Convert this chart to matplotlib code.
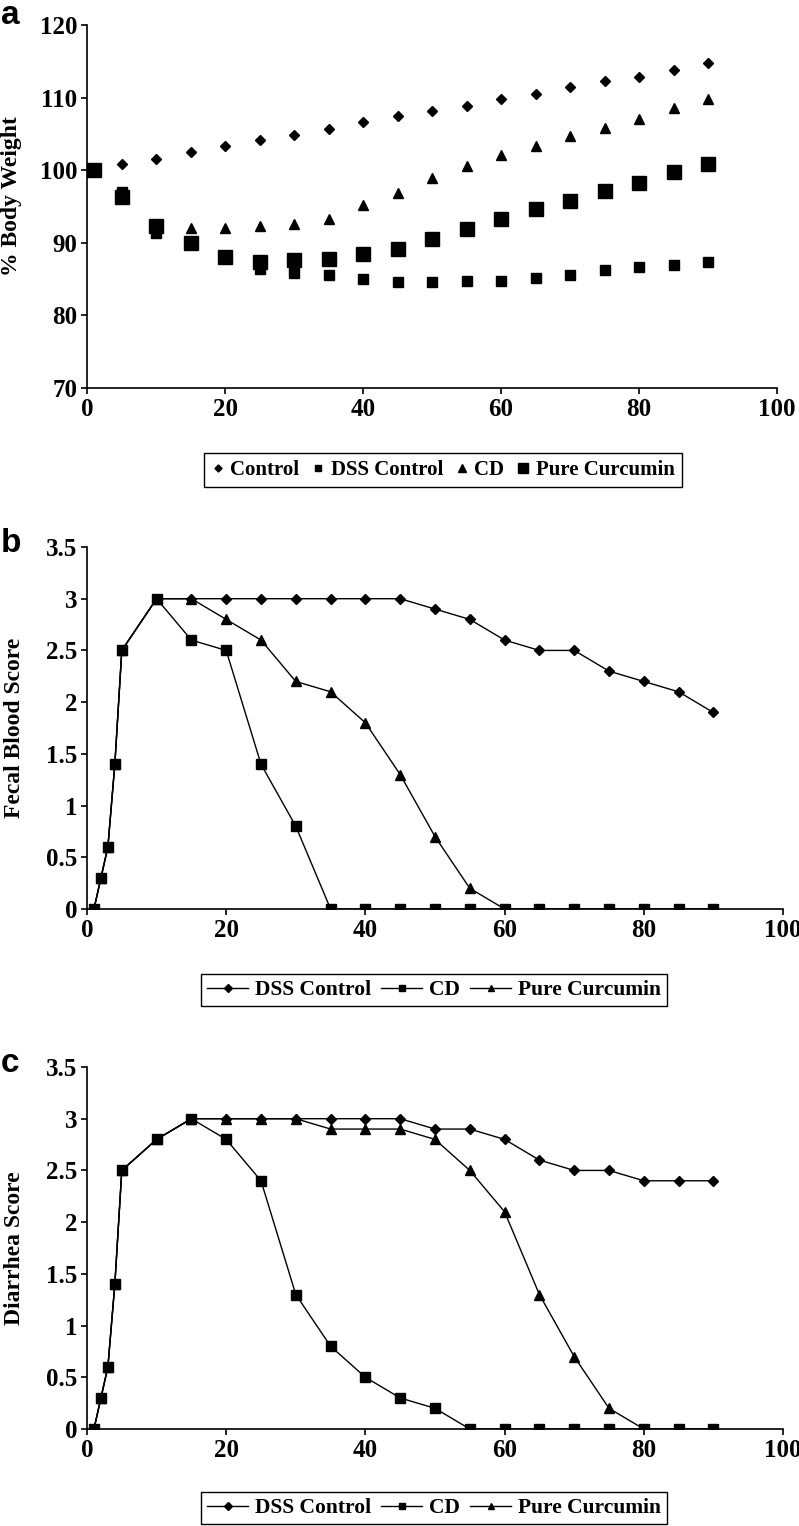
import numpy as np
import matplotlib
matplotlib.use("Agg")
import matplotlib.pyplot as plt
from matplotlib.lines import Line2D

plt.rcParams['font.family'] = ['Liberation Serif', 'DejaVu Serif']
plt.rcParams['font.weight'] = 'bold'

# ---- panel a: % body weight ----
days_a = [1, 5, 10, 15, 20, 25, 30, 35, 40, 45, 50, 55, 60, 65, 70, 75, 80, 85, 90]
control_a = [100, 100.8, 101.6, 102.5, 103.3, 104.1, 104.9, 105.7, 106.6, 107.4,
             108.1, 108.9, 109.8, 110.5, 111.4, 112.3, 112.9, 113.8, 114.7]
dss_a = [100, 97.0, 91.3, 89.8, 88.0, 86.4, 85.8, 85.5, 85.0, 84.6,
         84.6, 84.8, 84.8, 85.2, 85.5, 86.2, 86.6, 87.0, 87.4]
cd_a = [100, 97.0, 92.6, 92.0, 92.1, 92.3, 92.6, 93.3, 95.2, 96.9,
        98.9, 100.6, 102.1, 103.4, 104.7, 105.8, 107.1, 108.5, 109.8]
pure_a = [100, 96.3, 92.3, 90.0, 88.0, 87.4, 87.6, 87.8, 88.4, 89.2,
          90.5, 91.9, 93.3, 94.6, 95.8, 97.1, 98.2, 99.7, 100.9]

# ---- panel b: fecal blood score ----
days_bc = [1, 2, 3, 4, 5, 10, 15, 20, 25, 30, 35, 40, 45, 50, 55, 60, 65, 70, 75, 80, 85, 90]
dss_b = [0, 0.3, 0.6, 1.4, 2.5, 3.0, 3.0, 3.0, 3.0, 3.0, 3.0, 3.0, 3.0,
         2.9, 2.8, 2.6, 2.5, 2.5, 2.3, 2.2, 2.1, 1.9]
cd_b = [0, 0.3, 0.6, 1.4, 2.5, 3.0, 2.6, 2.5, 1.4, 0.8, 0, 0, 0,
        0, 0, 0, 0, 0, 0, 0, 0, 0]
pure_b = [0, 0.3, 0.6, 1.4, 2.5, 3.0, 3.0, 2.8, 2.6, 2.2, 2.1, 1.8, 1.3,
          0.7, 0.2, 0, 0, 0, 0, 0, 0, 0]

# ---- panel c: diarrhea score ----
dss_c = [0, 0.3, 0.6, 1.4, 2.5, 2.8, 3.0, 3.0, 3.0, 3.0, 3.0, 3.0, 3.0,
         2.9, 2.9, 2.8, 2.6, 2.5, 2.5, 2.4, 2.4, 2.4]
cd_c = [0, 0.3, 0.6, 1.4, 2.5, 2.8, 3.0, 2.8, 2.4, 1.3, 0.8, 0.5, 0.3,
        0.2, 0, 0, 0, 0, 0, 0, 0, 0]
pure_c = [0, 0.3, 0.6, 1.4, 2.5, 2.8, 3.0, 3.0, 3.0, 3.0, 2.9, 2.9, 2.9,
          2.8, 2.5, 2.1, 1.3, 0.7, 0.2, 0, 0, 0]

score_ticks = [0, 0.5, 1, 1.5, 2, 2.5, 3, 3.5]
score_labels = ['0', '0.5', '1', '1.5', '2', '2.5', '3', '3.5']
x_ticks = [0, 20, 40, 60, 80, 100]

W, H = 799, 1526
fig = plt.figure(figsize=(W / 100, H / 100), dpi=100)


def px_axes(x0, x1, ytop, ybot):
    return fig.add_axes([x0 / W, 1 - ybot / H, (x1 - x0) / W, (ybot - ytop) / H])


def style(ax):
    for s in ['top', 'right']:
        ax.spines[s].set_visible(False)
    for s in ['left', 'bottom']:
        ax.spines[s].set_linewidth(1.2)
    ax.tick_params(direction='out', length=4, width=1.2, labelsize=18, pad=3)
    ax.set_xlim(0, 100)
    ax.set_xticks(x_ticks)
    for lab in ax.get_xticklabels() + ax.get_yticklabels():
        lab.set_fontweight('bold')


# panel a
ax1 = px_axes(87, 777, 25, 388)
ax1.plot(days_a, control_a, 'D', color='black', ms=4.8, ls='none', label='Control')
ax1.plot(days_a, dss_a, 's', color='black', ms=6.5, ls='none', label='DSS Control')
ax1.plot(days_a, cd_a, '^', color='black', ms=7, ls='none', label='CD')
ax1.plot(days_a, pure_a, 's', color='black', ms=10, ls='none', label='Pure Curcumin')
ax1.set_ylim(70, 120)
ax1.set_yticks(range(70, 121, 10))
style(ax1)
fig.legend(handles=ax1.get_lines(), loc='center', bbox_to_anchor=(443 / W, 1 - 470 / H),
           ncol=4, frameon=True, fancybox=False, edgecolor='black', framealpha=1,
           prop={'size': 15, 'weight': 'bold'}, handlelength=0.6, handletextpad=0.3,
           columnspacing=0.6, borderpad=0.35, markerscale=0.75)

# panels b and c
kw = dict(color='black', lw=1.0)
for ytop, ybot, dss, cd, pure, lab, leg_y in [
        (547, 909, dss_b, cd_b, pure_b, 'Fecal Blood Score', 990),
        (1067, 1429, dss_c, cd_c, pure_c, 'Diarrhea Score', 1508)]:
    ax = px_axes(87, 783, ytop, ybot)
    ax.plot(days_bc, dss, marker='D', ms=5, label='DSS Control', zorder=3, **kw)
    ax.plot(days_bc, pure, marker='^', ms=7, label='Pure Curcumin', zorder=3, **kw)
    ax.plot(days_bc, cd, marker='s', ms=6.5, label='CD', zorder=4, **kw)
    ax.set_ylim(0, 3.5)
    ax.set_yticks(score_ticks)
    ax.set_yticklabels(score_labels)
    style(ax)
    fig.text(15 / W, 1 - (ytop + ybot) / 2 / H, lab, rotation=90, ha='center', va='center',
             fontsize=17, fontweight='bold')
    handles = [Line2D([], [], color='black', lw=1.0, marker='D', ms=4),
               Line2D([], [], color='black', lw=1.0, marker='s', ms=4.5),
               Line2D([], [], color='black', lw=1.0, marker='^', ms=5)]
    fig.legend(handles, ['DSS Control', 'CD', 'Pure Curcumin'], loc='center',
               bbox_to_anchor=(434 / W, 1 - leg_y / H), ncol=3, frameon=True,
               fancybox=False, edgecolor='black', framealpha=1,
               prop={'size': 15.5, 'weight': 'bold'}, handlelength=1.9, handletextpad=0.3,
               columnspacing=0.5, borderpad=0.3)

fig.text(12 / W, 1 - 196 / H, '% Body Weight', rotation=90, ha='center', va='center',
         fontsize=17, fontweight='bold')

for lbl, yb in [('a', 24), ('b', 552), ('c', 1072)]:
    fig.text(1 / W, 1 - yb / H, lbl, ha='left', va='baseline', fontsize=24,
             fontweight='bold', family=['Liberation Sans', 'DejaVu Sans'])

fig.savefig('out.png', dpi=100, facecolor='white')
